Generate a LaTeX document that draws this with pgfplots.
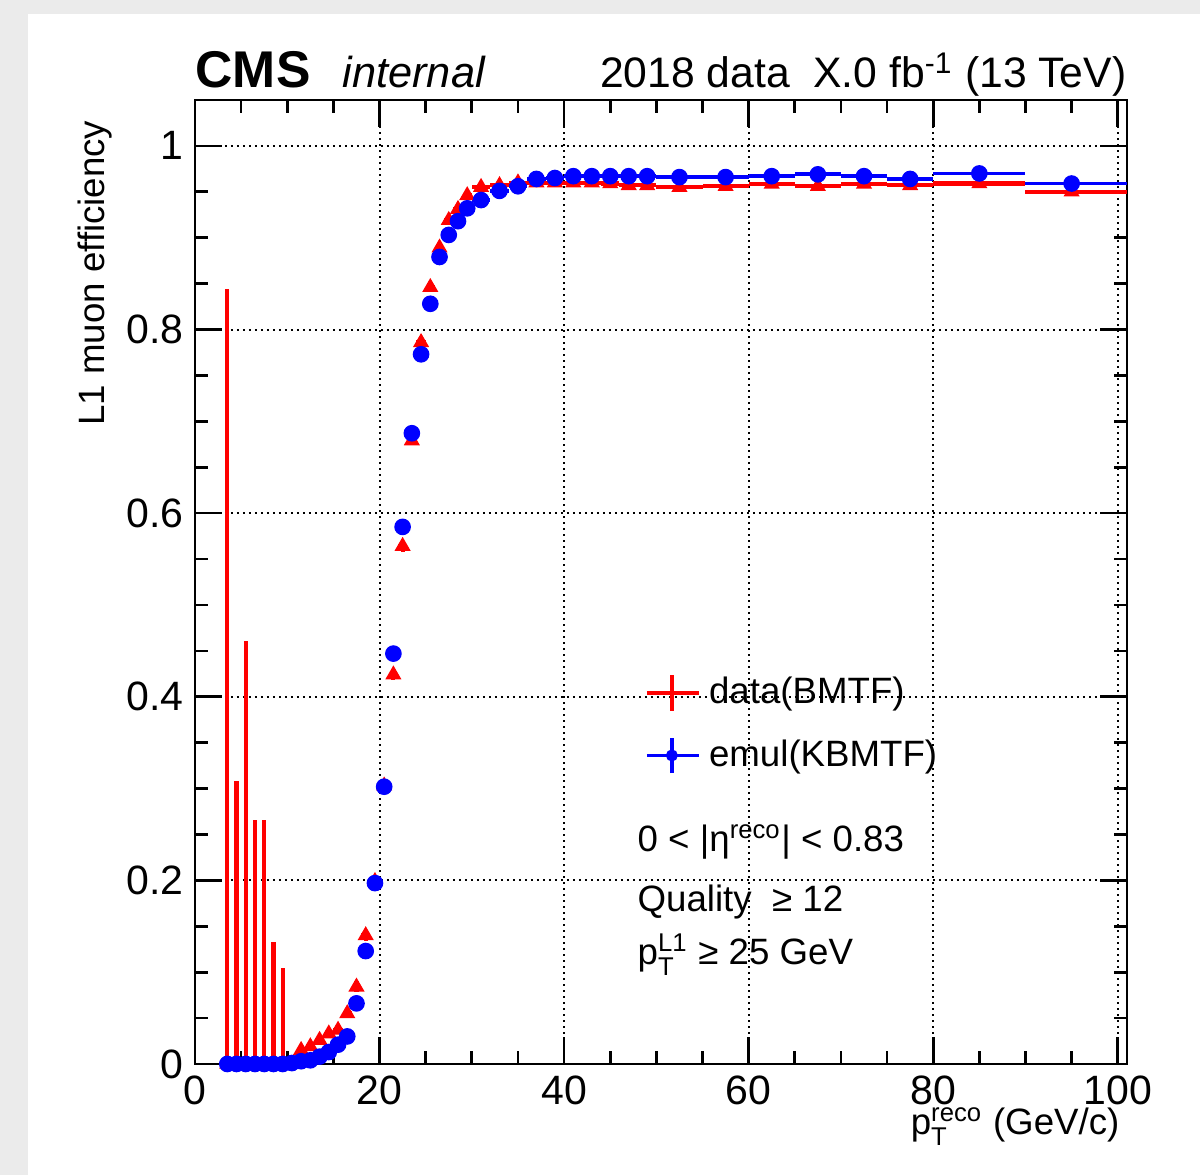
\documentclass[border=0pt]{standalone}
\usepackage{pgfplots}
\usepackage{pgfplotstable}
\pgfplotsset{compat=1.18}
\usepackage{amsmath}
\usepackage{fontspec}
\setmainfont{Liberation Sans}

\pgfplotstableread{
x y xm xp ym yp
3.5 0 0.5 0.5 0 0.844
4.5 0 0.5 0.5 0 0.308
5.5 0 0.5 0.5 0 0.461
6.5 0 0.5 0.5 0 0.266
7.5 0 0.5 0.5 0 0.266
8.5 0 0.5 0.5 0 0.133
9.5 0 0.5 0.5 0 0.104
10.5 0 0.5 0.5 0 0
11.5 0.015 0.5 0.5 0.004 0.004
12.5 0.019 0.5 0.5 0.004 0.004
13.5 0.026 0.5 0.5 0.004 0.004
14.5 0.033 0.5 0.5 0.004 0.004
15.5 0.037 0.5 0.5 0.004 0.004
16.5 0.055 0.5 0.5 0.005 0.005
17.5 0.084 0.5 0.5 0.006 0.006
18.5 0.140 0.5 0.5 0.006 0.006
19.5 0.199 0.5 0.5 0.006 0.006
20.5 0.303 0.5 0.5 0.006 0.006
21.5 0.424 0.5 0.5 0.006 0.006
22.5 0.564 0.5 0.5 0.006 0.006
23.5 0.679 0.5 0.5 0.005 0.005
24.5 0.786 0.5 0.5 0.005 0.005
25.5 0.846 0.5 0.5 0.004 0.004
26.5 0.889 0.5 0.5 0.004 0.004
27.5 0.919 0.5 0.5 0.003 0.003
28.5 0.931 0.5 0.5 0.003 0.003
29.5 0.946 0.5 0.5 0.003 0.003
31 0.955 1 1 0.002 0.002
33 0.957 1 1 0.002 0.002
35 0.960 1 1 0.002 0.002
37 0.960 1 1 0.002 0.002
39 0.960 1 1 0.002 0.002
41 0.960 1 1 0.002 0.002
43 0.960 1 1 0.002 0.002
45 0.959 1 1 0.002 0.002
47 0.957 1 1 0.002 0.002
49 0.957 1 1 0.002 0.002
52.5 0.955 2.5 2.5 0.002 0.002
57.5 0.956 2.5 2.5 0.002 0.002
62.5 0.9585 2.5 2.5 0.002 0.002
67.5 0.956 2.5 2.5 0.002 0.002
72.5 0.9585 2.5 2.5 0.002 0.002
77.5 0.957 2.5 2.5 0.002 0.002
85 0.959 5 5 0.002 0.002
95 0.950 5 6 0.002 0.002
}\reddata

\pgfplotstableread{
x y xm xp ym yp
3.5 0 0.5 0.5 0 0
4.5 0 0.5 0.5 0 0
5.5 0 0.5 0.5 0 0
6.5 0 0.5 0.5 0 0
7.5 0 0.5 0.5 0 0
8.5 0 0.5 0.5 0 0
9.5 0 0.5 0.5 0 0
10.5 0.001 0.5 0.5 0.001 0.001
11.5 0.003 0.5 0.5 0.001 0.001
12.5 0.004 0.5 0.5 0.001 0.001
13.5 0.008 0.5 0.5 0.002 0.002
14.5 0.013 0.5 0.5 0.002 0.002
15.5 0.021 0.5 0.5 0.002 0.002
16.5 0.030 0.5 0.5 0.002 0.002
17.5 0.066 0.5 0.5 0.003 0.003
18.5 0.123 0.5 0.5 0.003 0.003
19.5 0.197 0.5 0.5 0.003 0.003
20.5 0.302 0.5 0.5 0.003 0.003
21.5 0.447 0.5 0.5 0.003 0.003
22.5 0.585 0.5 0.5 0.003 0.003
23.5 0.687 0.5 0.5 0.003 0.003
24.5 0.773 0.5 0.5 0.003 0.003
25.5 0.828 0.5 0.5 0.002 0.002
26.5 0.879 0.5 0.5 0.002 0.002
27.5 0.903 0.5 0.5 0.002 0.002
28.5 0.918 0.5 0.5 0.002 0.002
29.5 0.932 0.5 0.5 0.002 0.002
31 0.941 1 1 0.002 0.002
33 0.951 1 1 0.002 0.002
35 0.956 1 1 0.002 0.002
37 0.964 1 1 0.002 0.002
39 0.965 1 1 0.002 0.002
41 0.967 1 1 0.002 0.002
43 0.967 1 1 0.002 0.002
45 0.967 1 1 0.002 0.002
47 0.967 1 1 0.002 0.002
49 0.967 1 1 0.002 0.002
52.5 0.966 2.5 2.5 0.002 0.002
57.5 0.966 2.5 2.5 0.002 0.002
62.5 0.967 2.5 2.5 0.002 0.002
67.5 0.969 2.5 2.5 0.002 0.002
72.5 0.967 2.5 2.5 0.002 0.002
77.5 0.964 2.5 2.5 0.002 0.002
85 0.970 5 5 0.002 0.002
95 0.959 5 6 0.002 0.002
}\bluedata

\begin{document}
\begin{tikzpicture}
\fill[black!8] (-58.5pt,-33.3pt) rectangle (301.5pt,319.2pt);
\fill[white] (-50.1pt,-33.3pt) rectangle (301.5pt,315pt);
\begin{axis}[
  at={(0,0)}, anchor=south west, scale only axis,
  width=279.6pt, height=289.2pt,
  xmin=0, xmax=101, ymin=0, ymax=1.05,
  xtick={0,20,40,60,80,100}, ytick={0,0.2,0.4,0.6,0.8,1},
  minor x tick num=3, minor y tick num=3,
  tick align=inside, tick pos=both,
  major tick length=8.1pt, minor tick length=3.9pt,
  axis line style={line width=0.8pt},
  tick style={black, line width=0.8pt},
  grid=major,
  major grid style={black, line width=0.6pt, dash pattern=on 0.6pt off 1.2pt},
  ticklabel style={font=\fontsize{12.3}{14}\selectfont},
  /pgf/number format/assume math mode=true,
  clip=false,
  legend cell align=left,
  legend style={at={(axis cs:48.7,0.370)}, anchor=west, draw=none, fill=none,
    inner sep=0pt, nodes={inner sep=0pt}, font=\fontsize{11}{13}\selectfont,
    row sep=7pt, /tikz/every odd column/.append style={column sep=2.6pt}},
]
\addplot[red, only marks, mark=triangle*, mark size=2.4pt,
  legend image code/.code={\draw[red, line width=1.1pt] (0pt,0pt) -- (15.5pt,0pt) (7.5pt,-5.3pt) -- (7.5pt,5.3pt);},
  error bars/.cd, x dir=both, x explicit, y dir=both, y explicit, error mark=none,
  error bar style={line width=1.25pt, red}]
  table[x=x, y=y, x error plus=xp, x error minus=xm, y error plus=yp, y error minus=ym] {\reddata};
\addlegendentry{data(BMTF)}
\addplot[blue, only marks, mark=*, mark size=2.3pt,
  legend image code/.code={\draw[blue, line width=1.1pt] (0pt,0pt) -- (15.5pt,0pt) (7.5pt,-5.3pt) -- (7.5pt,5.3pt); \fill[blue] (7.5pt,0pt) circle (1.6pt);},
  error bars/.cd, x dir=both, x explicit, y dir=both, y explicit, error mark=none,
  error bar style={line width=1.15pt, blue}]
  table[x=x, y=y, x error plus=xp, x error minus=xm, y error plus=yp, y error minus=ym] {\bluedata};
\addlegendentry{emul(KBMTF)}

\node[inner sep=0pt, anchor=base west, yshift=3.6pt, font=\fontsize{15.5}{18}\selectfont\bfseries] at (rel axis cs:0,1) {CMS};
\node[inner sep=0pt, anchor=base west, yshift=3.6pt, xshift=44.1pt, font=\fontsize{13}{15}\selectfont\itshape] at (rel axis cs:0,1) {internal};
\node[inner sep=0pt, anchor=base east, yshift=3.6pt, font=\fontsize{12.8}{15}\selectfont] at (rel axis cs:1,1) {2018 data\ \ X.0 fb$^{\text{-1}}$ (13 TeV)};
\path (rel axis cs:0,1) ++(-30pt,-6pt) node[inner sep=0pt, rotate=90, anchor=east, font=\fontsize{11}{13}\selectfont] {L1 muon efficiency};
\path (rel axis cs:1,0) ++(-2.1pt,-21.3pt) node[inner sep=0pt, anchor=base east, font=\fontsize{11}{13}\selectfont] {p$^{\text{reco}}_{\text{T}}$ (GeV/c)};
\node[inner sep=0pt, anchor=base west, font=\fontsize{11}{13}\selectfont] at (axis cs:47.9,0.2315) {0 < |η$^{\text{reco}}$| < 0.83};
\node[inner sep=0pt, anchor=base west, font=\fontsize{11}{13}\selectfont] at (axis cs:47.9,0.166) {Quality\ \ ≥ 12};
\node[inner sep=0pt, anchor=base west, font=\fontsize{11}{13}\selectfont] at (axis cs:47.9,0.108) {p$^{\text{L1}}_{\text{T}}$ ≥ 25 GeV};
\end{axis}
\end{tikzpicture}
\end{document}
